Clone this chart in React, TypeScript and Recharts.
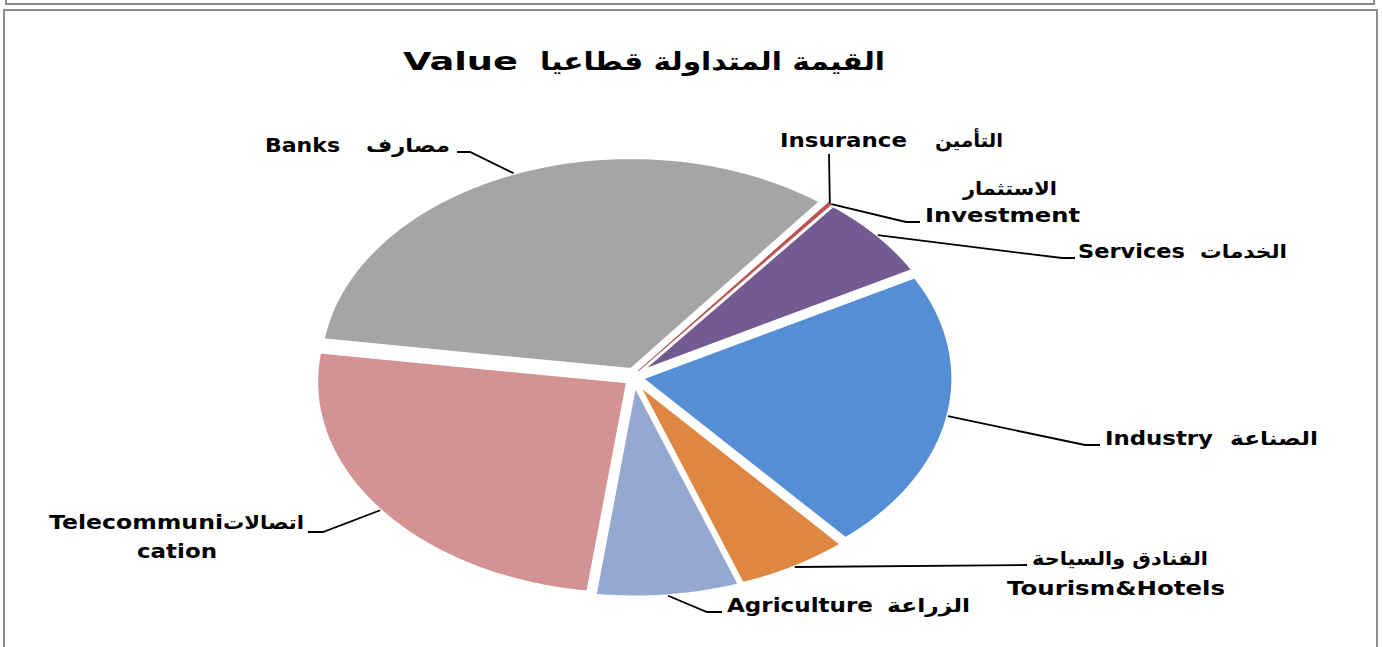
import { PieChart, Pie, Cell } from "recharts";

// ── data ──
const sectorsEn = ["Insurance", "Investment", "Services", "Industry", "Tourism&Hotels", "Agriculture", "Telecommuni", "Banks"];
const sectorsAr = ["التأمين", "الاستثمار", "الخدمات", "الصناعة", "الفنادق والسياحة", "الزراعة", "اتصالات", "مصارف"];
const shares = [0.15, 0.05, 6.4, 21.6, 5.9, 7.5, 25.2, 33.2];

const titleAr = "القيمة المتداولة قطاعيا";
const titleEn = "Value";

// ── styles ──
const COLORS = ["#C0504D", "#B0625E", "#735A91", "#558ED5", "#DD8742", "#95A9D0", "#D39393", "#A5A5A5"];
const FONT = "'DejaVu Sans', Verdana, sans-serif";
const RAD = Math.PI / 180;
const RX = 311;
const KY = 212 / RX; // vertical squash of the tilted pie
const EXPLODE = 8;

// label placement, [x, baseline, width]; knee/tail are the leader line bends
const labelLayout = [
  { en: [780, 147, 127], ar: [935, 147, 68], knee: [829, 154], tail: [829, 154] },
  { en: [925, 222, 155], ar: [963, 195, 94], knee: [906, 222], tail: [920, 222] },
  { en: [1078, 258, 107], ar: [1200, 258, 87], knee: [1062, 258], tail: [1075, 258] },
  { en: [1105, 445, 108], ar: [1230, 445, 88], knee: [1085, 445], tail: [1100, 445] },
  { en: [1007, 595, 218], ar: [1032, 565, 176], knee: [1027, 565], tail: [1027, 565] },
  { en: [727, 612, 146], ar: [887, 612, 83], knee: [707, 612], tail: [722, 612] },
  { en: [49, 529, 174], ar: [223, 529, 81], knee: [323, 532], tail: [308, 532], extra: ["cation", 137, 558, 80] },
  { en: [265, 152, 75], ar: [366, 152, 84], knee: [470, 152], tail: [457, 152] },
];

const data = sectorsEn.map((name, i) => ({ name, value: shares[i] }));

function EllipseSector(props: any) {
  const { cx, cy, outerRadius, startAngle, endAngle, fill } = props;
  const mid = ((startAngle + endAngle) / 2) * RAD;
  const ox = cx + EXPLODE * Math.cos(mid);
  const oy = cy - EXPLODE * Math.sin(mid);
  const span = endAngle - startAngle;
  const steps = Math.max(2, Math.ceil(Math.abs(span) / 2));
  let d = `M${ox},${oy}`;
  for (let i = 0; i <= steps; i++) {
    const a = (startAngle + (span * i) / steps) * RAD;
    d += ` L${ox + outerRadius * Math.cos(a)},${oy - outerRadius * KY * Math.sin(a)}`;
  }
  d += " Z";
  const tiny = Math.abs(span) < 2;
  return (
    <path
      d={d}
      fill={fill}
      stroke={tiny ? fill : "#fff"}
      strokeWidth={tiny ? 1.2 : 3}
      strokeLinejoin="round"
    />
  );
}

function renderLabel(props: any) {
  const { cx, cy, outerRadius, startAngle, endAngle, index } = props;
  const lay = labelLayout[index];
  if (!lay) return null;
  const mid = ((startAngle + endAngle) / 2) * RAD;
  const ex = cx + EXPLODE * Math.cos(mid) + outerRadius * Math.cos(mid);
  const ey = cy - EXPLODE * Math.sin(mid) - outerRadius * KY * Math.sin(mid);
  const [ix, iy, iw] = lay.en;
  const [ax, ay, aw] = lay.ar;
  return (
    <g>
      <polyline
        points={`${ex},${ey} ${lay.knee[0]},${lay.knee[1]} ${lay.tail[0]},${lay.tail[1]}`}
        fill="none"
        stroke="#000"
        strokeWidth={1.8}
      />
      <text x={ix} y={iy} fontFamily={FONT} fontWeight="bold" fontSize={19} fill="#000"
        textLength={iw} lengthAdjust="spacingAndGlyphs">
        {sectorsEn[index]}
      </text>
      <text x={ax} y={ay} fontFamily={FONT} fontWeight="bold" fontSize={19} fill="#000"
        textLength={aw} lengthAdjust="spacingAndGlyphs">
        {sectorsAr[index]}
      </text>
      {lay.extra && (
        <text x={lay.extra[1]} y={lay.extra[2]} fontFamily={FONT} fontWeight="bold" fontSize={19} fill="#000"
          textLength={lay.extra[3] as number} lengthAdjust="spacingAndGlyphs">
          {lay.extra[0]}
        </text>
      )}
    </g>
  );
}

export default function App() {
  return (
    <div style={{ position: "absolute", left: 0, top: 0, width: 1382, height: 647, background: "#fff", overflow: "hidden" }}>
      {/* frame of the box above and of the chart box */}
      <div style={{ position: "absolute", left: 5, top: -4, width: 1366, height: 7, border: "2px solid #8c8c8c", borderTop: "none" }} />
      <div style={{ position: "absolute", left: 3, top: 9, width: 1371, height: 660, border: "2px solid #8c8c8c" }} />
      <div style={{ position: "absolute", left: 0, top: 0 }}>
        <PieChart width={1382} height={647} margin={{ top: 0, right: 0, bottom: 0, left: 0 }}>
          <Pie
            data={data}
            dataKey="value"
            nameKey="name"
            cx={634}
            cy={377}
            outerRadius={RX}
            startAngle={52.4}
            endAngle={-307.6}
            shape={EllipseSector}
            inactiveShape={EllipseSector}
            activeShape={EllipseSector}
            label={renderLabel}
            labelLine={false}
            isAnimationActive={false}
          >
            {data.map((_, i) => (
              <Cell key={`cell-${i}`} fill={COLORS[i]} />
            ))}
          </Pie>
        </PieChart>
      </div>
      <svg width={1382} height={120} style={{ position: "absolute", left: 0, top: 0 }}>
        <text x={403} y={70} fontFamily={FONT} fontWeight="bold" fontSize={25} fill="#000"
          textLength={115} lengthAdjust="spacingAndGlyphs">
          {titleEn}
        </text>
        <text x={540} y={70} fontFamily={FONT} fontWeight="bold" fontSize={25} fill="#000"
          textLength={345} lengthAdjust="spacingAndGlyphs">
          {titleAr}
        </text>
      </svg>
    </div>
  );
}
